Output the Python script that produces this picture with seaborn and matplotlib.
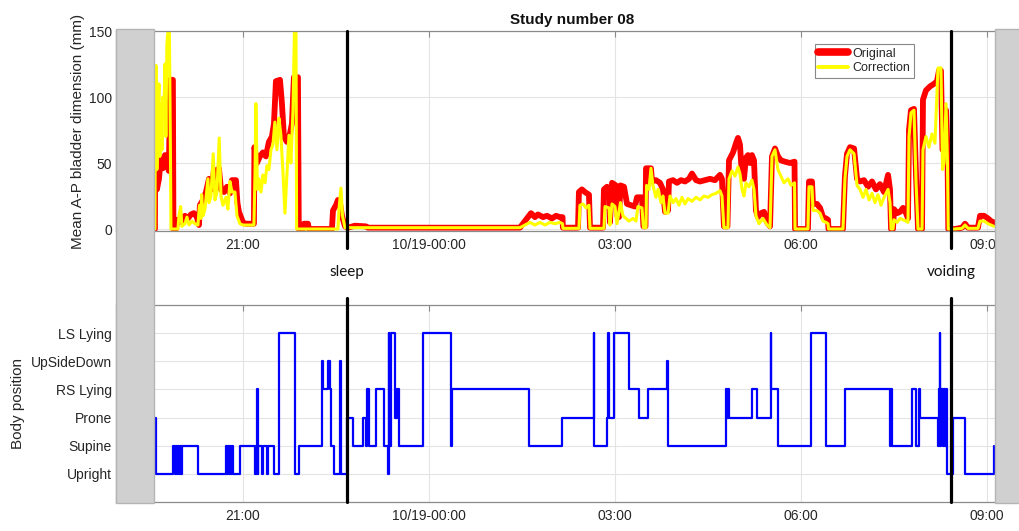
import matplotlib
matplotlib.use("Agg")
import matplotlib.pyplot as plt
from matplotlib.lines import Line2D
from matplotlib.patches import Rectangle
import seaborn as sns

# ---------------- data (times = minutes after 10/18 19:00) ----------------
orig_t = [34.8, 35.1, 36.7, 38.7, 40.6, 42.5, 44.5, 46.4, 48.3, 49.6, 52.2, 52.7, 55.1, 56.1, 58.0, 60.0,
          61.9, 63.8, 66.7, 69.6, 72.5, 75.4, 77.4, 78.3, 81.3, 84.2, 87.1, 90.0, 91.9, 94.8, 96.7, 98.7,
          101.6, 104.5, 107.4, 109.3, 113.2, 114.6, 116.1, 118.0, 120.0, 122.9, 126.7, 130.6, 131.1, 133.5,
          136.4, 139.3, 142.2, 145.1, 148.0, 150.0, 151.9, 155.8, 157.7, 159.6, 162.5, 165.4, 167.4, 169.3,
          173.2, 174.0, 178.0, 179.0, 182.9, 183.8, 206.1, 207.1, 210.0, 211.9, 213.8, 215.8, 218.7, 221.6,
          228.3, 239.0, 240.9, 388.0, 391.9, 395.8, 398.7, 402.5, 405.4, 410.3, 414.2, 419.0, 422.9, 426.7,
          429.2, 429.6, 444.2, 445.1, 448.0, 450.9, 454.8, 455.8, 468.4, 469.3, 472.2, 474.6, 475.1, 477.1,
          480.9, 482.4, 483.8, 485.3, 488.7, 491.6, 495.5, 499.3, 501.3, 506.1, 507.5, 509.5, 510.0, 514.8,
          515.8, 519.6, 523.5, 526.4, 528.4, 531.3, 532.2, 536.1, 540.0, 543.8, 547.7, 551.6, 554.5, 558.4,
          562.2, 567.1, 571.9, 576.7, 581.6, 583.5, 585.4, 588.8, 590.3, 594.2, 597.1, 599.0, 600.9, 602.9,
          604.8, 606.7, 608.7, 610.6, 612.5, 614.5, 616.4, 618.3, 621.3, 624.2, 627.1, 630.0, 631.9, 634.8,
          637.7, 640.6, 644.5, 649.3, 653.7, 654.2, 666.7, 667.7, 670.6, 671.6, 675.4, 678.4, 681.3, 684.2,
          686.1, 686.6, 700.6, 702.5, 704.5, 707.4, 711.3, 714.2, 717.1, 720.9, 724.8, 728.7, 732.5, 736.4,
          740.3, 744.2, 746.1, 747.1, 749.0, 750.0, 752.9, 755.8, 758.7, 761.6, 763.5, 764.5, 766.4, 769.3,
          771.3, 773.2, 777.1, 778.0, 780.9, 784.8, 788.7, 791.6, 793.5, 795.4, 796.9, 798.4, 800.3, 801.7,
          802.5, 809.0, 815.8, 818.7, 821.6, 831.2, 833.2, 837.1, 840.9, 843.8, 846.7]
orig_v = [0, 78, 30, 38, 54, 46, 56, 50, 44, 113, 113, 0, 0, 7, 5, 9,
          6, 10, 8, 11, 12, 9, 3, 18, 22, 28, 38, 30, 45, 40, 46, 30,
          28, 32, 27, 37, 37, 20, 13, 9, 5, 4, 4, 4, 62, 50,
          55, 58, 55, 66, 70, 80, 112, 113, 95, 70, 66, 72, 80, 115,
          115, 0, 0, 4, 4, 0, 0, 14, 18, 22, 20, 10, 2, 1,
          2.5, 2, 1, 1, 5, 9, 12, 9, 11, 9, 10, 8, 10, 9,
          9, 1, 1, 28, 30, 28, 26, 1, 1, 30, 32, 30, 5, 35,
          33, 10, 9, 33, 32, 19, 18, 17, 24, 24, 2, 2, 46, 46,
          36, 37, 35, 30, 13, 14, 36, 37, 35, 37, 36, 38, 42, 37,
          36, 37, 38, 37, 41, 38, 2, 2, 52, 58, 65, 69, 64, 40,
          38, 54, 56, 50, 56, 52, 14, 9, 12, 13, 5, 2, 55, 61,
          55, 52, 51, 50, 51, 0, 0, 36, 36, 19, 19, 16, 9, 8,
          7, 0, 0, 40, 57, 62, 61, 38, 36, 37, 32, 36, 30, 34,
          28, 41, 30, 0, 0, 15, 12, 13, 16, 12, 8, 75, 90, 91,
          40, 0, 0, 98, 105, 108, 110, 112, 120, 120, 60, 62, 90, 60,
          0, 0, 1, 4, 1, 1, 10, 10, 8, 6, 5]

corr_t = [34.8, 35.1, 35.8, 36.7, 37.7, 38.7, 39.6, 40.6, 41.6, 42.5, 43.5, 44.5, 45.4, 46.4, 47.4, 48.8,
          49.8, 50.3, 57.1, 58.0, 59.7, 60.9, 63.8, 65.8, 67.7, 70.6, 73.5, 76.4, 77.9, 79.3, 80.0, 81.3,
          83.2, 85.1, 86.1, 87.1, 89.0, 91.2, 92.9, 94.8, 97.0, 98.7, 100.6, 103.5, 105.4, 107.4, 109.3,
          112.2, 114.2, 117.1, 120.0, 126.7, 130.6, 131.6, 132.5, 134.0, 135.4, 137.4, 139.3, 141.3, 143.2,
          145.1, 147.1, 149.0, 150.9, 152.9, 154.8, 156.7, 158.7, 160.6, 162.5, 164.5, 166.4, 168.4, 169.8,
          171.3, 171.9, 211.9, 212.9, 214.8, 216.3, 218.7, 388.0, 392.9, 397.7, 402.5, 407.4, 412.2, 417.1,
          421.9, 426.7, 429.2, 429.6, 445.1, 446.1, 449.0, 451.9, 454.8, 455.8, 469.3, 470.3, 474.2, 475.1,
          477.1, 480.0, 481.9, 485.3, 487.7, 490.6, 493.5, 497.4, 500.3, 502.2, 506.1, 507.5, 510.0, 510.5,
          512.9, 514.8, 516.7, 519.6, 521.6, 524.5, 526.4, 528.4, 531.3, 533.2, 536.1, 539.0, 541.9, 544.8,
          547.7, 550.6, 554.5, 558.4, 562.2, 566.1, 570.0, 573.8, 577.7, 581.6, 583.5, 585.4, 589.3, 590.3,
          593.2, 596.1, 599.0, 600.9, 602.9, 604.8, 606.7, 609.6, 612.5, 614.5, 616.4, 619.3, 623.2, 627.1,
          630.0, 631.9, 634.8, 637.7, 640.6, 643.5, 647.4, 650.3, 653.7, 654.2, 666.7, 667.7, 670.6, 671.6,
          675.4, 678.4, 681.3, 684.2, 686.1, 686.6, 700.6, 702.5, 704.5, 707.4, 711.3, 714.2, 717.1, 720.0,
          722.9, 725.8, 728.7, 731.6, 734.5, 737.4, 740.3, 744.2, 746.1, 747.1, 749.0, 750.0, 752.9, 755.8,
          758.7, 761.6, 763.5, 764.5, 766.4, 769.3, 771.3, 773.2, 777.1, 778.0, 780.9, 783.8, 786.7, 789.6,
          792.5, 795.4, 796.9, 798.4, 800.3, 801.7, 802.5, 809.0, 815.8, 818.7, 821.6, 831.2, 833.2, 837.1,
          840.9, 843.8, 846.7]
corr_v = [0, 60, 124, 45, 80, 110, 55, 95, 60, 100, 85, 125, 70, 140, 150, 150,
          60, 0, 0, 10, 17, 2, 4, 9, 3, 6, 4, 3, 18, 8, 26, 10,
          15, 30, 38, 20, 25, 57, 22, 28, 69, 25, 18, 24, 15, 36, 28,
          28, 10, 4, 3, 3, 3, 40, 95, 30, 38, 28, 41, 35, 48,
          45, 60, 64, 81, 60, 84, 71, 43, 12, 40, 71, 50, 90, 150,
          150, 0, 0, 15, 31, 10, 1, 1, 3, 5, 3, 5, 3, 5,
          4, 5, 4, 0.5, 0.5, 18, 19, 16, 18, 0.5, 0.5, 17, 16, 3,
          19, 17, 4, 20, 10, 8, 6, 8, 6, 17, 16, 1, 1, 33,
          30, 46, 33, 24, 30, 20, 25, 12, 12, 25, 20, 23, 18, 24,
          19, 23, 21, 24, 22, 25, 24, 26, 27, 29, 25, 1, 1, 38,
          44, 40, 47, 42, 30, 25, 35, 32, 37, 30, 10, 4, 8, 3,
          1, 55, 60, 45, 40, 35, 38, 33, 35, 0, 0, 32, 32, 14,
          14, 12, 6, 5, 4, 0, 0, 38, 55, 60, 57, 33, 30, 24,
          30, 22, 27, 20, 26, 18, 24, 30, 20, 0, 0, 7, 5, 8,
          7, 6, 5, 70, 88, 90, 35, 0, 0, 60, 70, 62, 72, 65,
          122, 122, 45, 50, 95, 50, 0, 0, 0.5, 3, 0.5, 0.5, 6, 6,
          4, 3, 2]

pos_levels = ["Upright", "Supine", "Prone", "RS Lying", "UpSideDown", "LS Lying"]
pos_t = [34.8, 35.5, 52.2, 54.2, 55.1, 56.6, 57.5, 58.5, 59.5, 60.4, 60.9, 76.4, 103.5, 104.5, 105.9,
         106.9, 107.9, 108.8, 109.8, 110.3, 117.1, 131.6, 133.5, 134.3, 135.0, 138.4, 139.3, 143.7,
         144.3, 150.0, 154.8, 170.3, 174.2, 196.4, 197.4, 202.2, 204.2, 205.1, 208.0, 214.3, 215.1,
         220.6, 226.1, 236.4, 239.0, 240.5, 241.9, 248.7, 256.9, 260.3, 261.0, 261.7, 263.2, 267.1,
         269.5, 271.4, 294.2, 321.3, 321.9, 397.2, 428.4, 459.2, 459.9, 471.9, 473.5, 474.5, 479.5,
         493.5, 503.7, 511.9, 530.3, 530.8, 587.4, 588.3, 589.1, 590.3, 612.5, 617.4, 630.5, 631.2,
         637.7, 669.6, 684.6, 703.0, 746.1, 746.9, 748.0, 767.4, 771.3, 774.2, 775.6, 792.5, 793.1,
         794.1, 794.9, 795.4, 796.9, 797.9, 799.8, 800.6, 801.2, 807.5, 818.7, 847.0]
pos_state = ["Prone", "Upright", "Supine", "Upright", "Supine", "Upright", "Supine", "Upright", "Supine",
             "Upright", "Supine", "Upright", "Supine", "Upright", "Supine", "Upright", "Supine", "Upright",
             "Supine", "Upright", "Supine", "Upright", "RS Lying", "Upright", "Supine", "Upright", "Supine",
             "Upright", "Supine", "Upright", "LS Lying", "Upright", "Supine", "UpSideDown", "RS Lying",
             "UpSideDown", "RS Lying", "Supine", "Upright", "UpSideDown", "Upright",
             "Prone", "Supine", "Prone", "Supine", "RS Lying", "Supine", "RS Lying", "Supine", "Upright",
             "LS Lying", "Supine", "LS Lying", "Prone", "RS Lying", "Supine", "LS Lying", "Supine",
             "RS Lying", "Supine", "Prone", "LS Lying", "Supine", "Prone", "LS Lying", "Prone", "LS Lying",
             "RS Lying", "Prone", "RS Lying", "UpSideDown", "Supine", "RS Lying", "Prone", "RS Lying",
             "Prone", "RS Lying", "Prone", "LS Lying", "RS Lying", "Supine", "LS Lying", "Supine",
             "RS Lying", "Supine", "RS Lying", "Supine", "RS Lying", "Supine", "RS Lying", "Prone",
             "Supine", "RS Lying", "LS Lying", "Supine", "RS Lying", "Supine", "RS Lying", "Supine",
             "RS Lying", "Upright", "Prone", "Upright", "Supine"]

tick_minutes = [120, 300, 480, 660, 840]
tick_labels = ["21:00", "10/19-00:00", "03:00", "06:00", "09:00"]
sleep_t = 220.3
voiding_t = 805.1
record_start = 33.9
record_end = 847.7
view_start = -2.9
view_end = 879.6

# ---------------- style ----------------
sns.set_theme(style="white")
plt.rcParams["font.family"] = ["Liberation Sans", "DejaVu Sans"]
spine_c = "#8a8a8a"
text_c = "#262626"
grid_c = "#e4e4e4"

fig = plt.figure(figsize=(10.19, 5.31), dpi=100)
ax1 = fig.add_axes([0.1138, 0.565, 0.895, 0.3766])
ax2 = fig.add_axes([0.1138, 0.0546, 0.895, 0.371])

# top panel
sns.lineplot(x=orig_t, y=orig_v, ax=ax1, color="#ff0000", lw=4.2, estimator=None, sort=False)
sns.lineplot(x=corr_t, y=corr_v, ax=ax1, color="#ffff00", lw=2.2, estimator=None, sort=False)
ax1.set_ylim(-1.5, 150)
ax1.set_yticks([0, 50, 100, 150])
ax1.set_ylabel("Mean A-P bladder dimension (mm)", fontsize=11, color=text_c, labelpad=3)
ax1.set_title("Study number 08", fontsize=11, fontweight="bold", color="#111111", pad=5)

# bottom panel
pos_y = [pos_levels.index(s) + 1 for s in pos_state]
sns.lineplot(x=pos_t, y=pos_y, ax=ax2, color="#0000ff", lw=1.6, estimator=None, sort=False,
             drawstyle="steps-post")
ax2.set_ylim(0, 7)
ax2.set_yticks(range(1, 7))
ax2.set_yticklabels(pos_levels)
ax2.set_ylabel("Body position", fontsize=11, color=text_c, labelpad=4)

for ax in (ax1, ax2):
    ax.set_xlim(view_start, view_end)
    ax.set_xticks(tick_minutes)
    ax.set_xticklabels(tick_labels)
    ax.set_xlabel("")
    ax.grid(True, color=grid_c, lw=0.8)
    ax.set_axisbelow(True)
    for s in ax.spines.values():
        s.set_color(spine_c)
        s.set_linewidth(0.9)
    ax.tick_params(direction="in", length=4, width=0.8, color=spine_c, top=True, right=True,
                   labelsize=10, labelcolor=text_c, pad=5)
    ax.tick_params(axis="y", pad=3)

# event lines
for t in (sleep_t, voiding_t):
    ax1.axvline(t, ymin=-0.085, ymax=1, color="black", lw=2.3, clip_on=False, zorder=4)
    ax2.axvline(t, ymin=0, ymax=1.035, color="black", lw=2.3, clip_on=False, zorder=4)
for t, lab in ((sleep_t, "sleep"), (voiding_t, "voiding")):
    ax1.text(t, -0.205, lab, transform=ax1.get_xaxis_transform(), ha="center", va="center",
             fontsize=11, family=["Lato", "DejaVu Sans"], color="#111111")

# legend
handles = [Line2D([], [], color="#ff0000", lw=5.5), Line2D([], [], color="#ffff00", lw=2.8)]
leg = ax1.legend(handles, ["Original", "Correction"], loc="upper left", bbox_to_anchor=(0.766, 0.935),
                 frameon=True, fancybox=False, edgecolor="#6a6a6a", fontsize=9, handlelength=2.4,
                 borderpad=0.3, labelspacing=0.2, handletextpad=0.3, borderaxespad=0)
leg.get_frame().set_linewidth(0.8)

# grey regions outside the recording
inv = fig.transFigure.inverted()
def fig_x(ax, t):
    return inv.transform(ax.transData.transform((t, 0)))[0]

y_lo = 0.0546 - 0.002
y_hi = 0.9416 + 0.003
x_left0 = fig_x(ax1, view_start)
x_left1 = fig_x(ax1, record_start)
x_right0 = fig_x(ax1, record_end)
fig.patches.append(Rectangle((x_left0, y_lo), x_left1 - x_left0, y_hi - y_lo, transform=fig.transFigure,
                             facecolor="#d0d0d0", edgecolor="#b5b5b5", lw=1.0, zorder=10))
fig.patches.append(Rectangle((x_right0, y_lo), 1.05 - x_right0, y_hi - y_lo, transform=fig.transFigure,
                             facecolor="#d0d0d0", edgecolor="#b5b5b5", lw=1.0, zorder=10))

fig.savefig("out.png", dpi=100)
